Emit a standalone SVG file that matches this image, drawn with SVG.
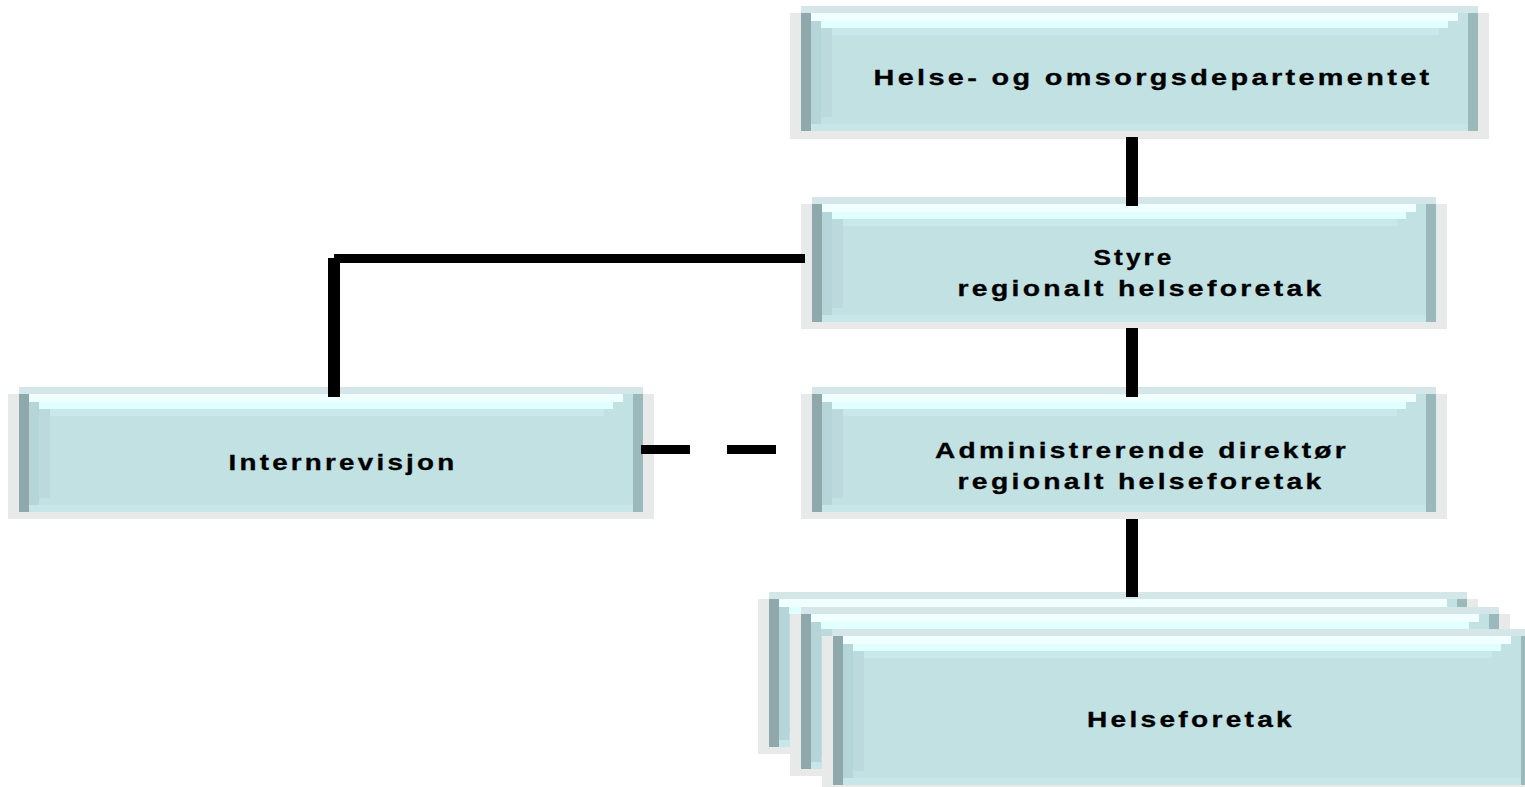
<svg xmlns="http://www.w3.org/2000/svg" width="1525" height="787" viewBox="0 0 1525 787">
<style>
.sh{fill:#e8eaea}
.base{fill:#c2e1e3}
.tb{fill:#d5e6e8}
.h1{fill:#f0ffff}
.h2{fill:#e0ffff}
.h3{fill:#c8e8ec}
.l1{fill:#b5d5d8}
.l2{fill:#bcdadd}
.bb{fill:#c8e6e8}
.dl{fill:#8fa8ab}
.dr{fill:#9bb8ba}
.t{font-family:"Liberation Sans",Arial,sans-serif;font-weight:bold;font-size:21.5px;letter-spacing:2.5px;fill:#000;text-anchor:middle;stroke:#000;stroke-width:0.3px}
.c{stroke:#000;fill:none}
</style>
<rect width="1525" height="787" fill="#fff"/>

<g id="helse-og-omsorgsdepartementet">
<rect class="sh" x="790" y="13" width="699" height="126"/>
<rect class="base" x="801" y="6" width="677" height="125"/>
<rect class="tb" x="801" y="6" width="677" height="7"/>
<rect class="h1" x="811" y="13" width="647" height="8"/>
<rect class="h2" x="821" y="21" width="627" height="7"/>
<rect class="h3" x="832" y="28" width="607" height="7"/>
<rect class="l1" x="811" y="21" width="10" height="103"/>
<rect class="l2" x="821" y="28" width="11" height="89"/>
<rect class="bb" x="811" y="124" width="657" height="7"/>
<rect class="dl" x="801" y="13" width="10" height="118"/>
<rect class="dr" x="1468" y="13" width="10" height="118"/>
<text class="t" x="1153" y="85" textLength="559" lengthAdjust="spacingAndGlyphs">Helse- og omsorgsdepartementet</text>
</g>

<g id="styre">
<rect class="sh" x="801" y="204" width="646" height="125"/>
<rect class="base" x="812" y="197" width="624" height="125"/>
<rect class="tb" x="812" y="197" width="624" height="7"/>
<rect class="h1" x="822" y="204" width="594" height="8"/>
<rect class="h2" x="832" y="212" width="574" height="7"/>
<rect class="h3" x="843" y="219" width="554" height="7"/>
<rect class="l1" x="822" y="212" width="10" height="103"/>
<rect class="l2" x="832" y="219" width="11" height="89"/>
<rect class="bb" x="822" y="315" width="604" height="7"/>
<rect class="dl" x="812" y="204" width="10" height="118"/>
<rect class="dr" x="1426" y="204" width="10" height="118"/>
<text class="t" x="1134" y="265" textLength="81" lengthAdjust="spacingAndGlyphs">Styre</text>
<text class="t" x="1141" y="296" textLength="367" lengthAdjust="spacingAndGlyphs">regionalt helseforetak</text>
</g>

<g id="administrerende-direktor">
<rect class="sh" x="801" y="394" width="646" height="125"/>
<rect class="base" x="812" y="387" width="624" height="125"/>
<rect class="tb" x="812" y="387" width="624" height="7"/>
<rect class="h1" x="822" y="394" width="594" height="8"/>
<rect class="h2" x="832" y="402" width="574" height="7"/>
<rect class="h3" x="843" y="409" width="554" height="7"/>
<rect class="l1" x="822" y="402" width="10" height="103"/>
<rect class="l2" x="832" y="409" width="11" height="89"/>
<rect class="bb" x="822" y="505" width="604" height="7"/>
<rect class="dl" x="812" y="394" width="10" height="118"/>
<rect class="dr" x="1426" y="394" width="10" height="118"/>
<text class="t" x="1142" y="458" textLength="414" lengthAdjust="spacingAndGlyphs">Administrerende direktør</text>
<text class="t" x="1141" y="489" textLength="367" lengthAdjust="spacingAndGlyphs">regionalt helseforetak</text>
</g>

<g id="internrevisjon">
<rect class="sh" x="8" y="394" width="646" height="125"/>
<rect class="base" x="19" y="387" width="624" height="125"/>
<rect class="tb" x="19" y="387" width="624" height="7"/>
<rect class="h1" x="29" y="394" width="594" height="8"/>
<rect class="h2" x="39" y="402" width="574" height="7"/>
<rect class="h3" x="50" y="409" width="554" height="7"/>
<rect class="l1" x="29" y="402" width="10" height="103"/>
<rect class="l2" x="39" y="409" width="11" height="89"/>
<rect class="bb" x="29" y="505" width="604" height="7"/>
<rect class="dl" x="19" y="394" width="10" height="118"/>
<rect class="dr" x="633" y="394" width="10" height="118"/>
<text class="t" x="343" y="470" textLength="229" lengthAdjust="spacingAndGlyphs">Internrevisjon</text>
</g>

<g id="helseforetak">
<g id="helseforetak-a">
<rect class="sh" x="758" y="599" width="720" height="155"/>
<rect class="base" x="769" y="592" width="698" height="155"/>
<rect class="tb" x="769" y="592" width="698" height="7"/>
<rect class="h1" x="779" y="599" width="668" height="8"/>
<rect class="h2" x="789" y="607" width="648" height="7"/>
<rect class="h3" x="800" y="614" width="628" height="7"/>
<rect class="l1" x="779" y="607" width="10" height="133"/>
<rect class="l2" x="789" y="614" width="11" height="119"/>
<rect class="bb" x="779" y="740" width="678" height="7"/>
<rect class="dl" x="769" y="599" width="10" height="148"/>
<rect class="dr" x="1457" y="599" width="10" height="148"/>
</g>
<g id="helseforetak-b">
<rect class="sh" x="790" y="614" width="720" height="162"/>
<rect class="base" x="801" y="607" width="698" height="162"/>
<rect class="tb" x="801" y="607" width="698" height="7"/>
<rect class="h1" x="811" y="614" width="668" height="8"/>
<rect class="h2" x="821" y="622" width="648" height="7"/>
<rect class="h3" x="832" y="629" width="628" height="7"/>
<rect class="l1" x="811" y="622" width="10" height="140"/>
<rect class="l2" x="821" y="629" width="11" height="126"/>
<rect class="bb" x="811" y="762" width="678" height="7"/>
<rect class="dl" x="801" y="614" width="10" height="155"/>
<rect class="dr" x="1489" y="614" width="10" height="155"/>
</g>
<g id="helseforetak-c">
<rect class="sh" x="822" y="636" width="720" height="160"/>
<rect class="base" x="833" y="629" width="698" height="156"/>
<rect class="tb" x="833" y="629" width="698" height="7"/>
<rect class="h1" x="843" y="636" width="668" height="8"/>
<rect class="h2" x="853" y="644" width="648" height="7"/>
<rect class="h3" x="864" y="651" width="628" height="7"/>
<rect class="l1" x="843" y="644" width="10" height="134"/>
<rect class="l2" x="853" y="651" width="11" height="120"/>
<rect class="bb" x="843" y="778" width="678" height="7"/>
<rect class="dl" x="833" y="636" width="10" height="149"/>
<rect class="dr" x="1521" y="636" width="10" height="149"/>
<text class="t" x="1191" y="727" textLength="208" lengthAdjust="spacingAndGlyphs">Helseforetak</text>
</g>
</g>

<g id="connectors">
<line class="c" x1="1132" y1="137" x2="1132" y2="206" stroke-width="12"/>
<line class="c" x1="1132" y1="328" x2="1132" y2="397" stroke-width="12"/>
<line class="c" x1="1132" y1="519" x2="1132" y2="597" stroke-width="12"/>
<line class="c" x1="334" y1="258.5" x2="805" y2="258.5" stroke-width="9"/>
<line class="c" x1="334" y1="258" x2="334" y2="397" stroke-width="12"/>
<line class="c" x1="641" y1="449.5" x2="776" y2="449.5" stroke-width="9" stroke-dasharray="49 37"/>
</g>
</svg>
